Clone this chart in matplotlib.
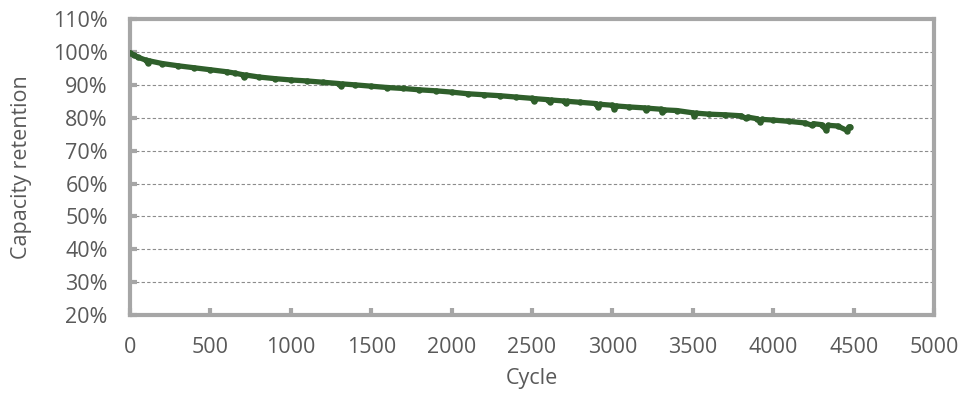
import matplotlib
matplotlib.use("Agg")
import matplotlib.pyplot as plt
from matplotlib.ticker import FuncFormatter

plt.rcParams['font.family'] = ['Open Sans', 'DejaVu Sans']

# data (cycle, capacity retention in %)
cycles = [0, 25, 50, 100, 110, 120, 200, 300, 400, 500, 600, 650, 700, 710, 720,
          800, 900, 1000, 1100, 1200, 1300, 1310, 1320, 1400, 1500, 1600, 1700,
          1800, 1900, 2000, 2100, 2200, 2300, 2400, 2500, 2510, 2520, 2600, 2610,
          2620, 2700, 2710, 2720, 2800, 2900, 2910, 2920, 3000, 3010, 3020, 3100,
          3200, 3210, 3220, 3300, 3310, 3320, 3400, 3500, 3510, 3520, 3600, 3700,
          3800, 3830, 3840, 3900, 3920, 3930, 4000, 4100, 4200, 4240, 4250, 4300,
          4330, 4340, 4400, 4460, 4470, 4480]
retention = [99.8, 99.0, 98.4, 97.5, 96.7, 97.3, 96.5, 95.8, 95.2, 94.6, 94.0, 93.6,
             93.1, 92.5, 93.0, 92.4, 91.9, 91.5, 91.2, 90.8, 90.4, 89.8, 90.3,
             90.0, 89.6, 89.2, 88.9, 88.5, 88.2, 87.8, 87.3, 87.0, 86.7, 86.3, 85.9,
             85.2, 85.8, 85.5, 84.9, 85.4, 85.1, 84.4, 85.0, 84.7, 84.3, 83.2, 84.1,
             83.8, 82.8, 83.6, 83.3, 83.0, 82.4, 82.9, 82.6, 81.8, 82.4, 82.2, 81.5,
             80.5, 81.4, 81.1, 80.9, 80.6, 79.8, 80.2, 79.7, 78.8, 79.5, 79.3, 78.9,
             78.4, 77.7, 78.2, 77.9, 76.2, 77.7, 77.5, 76.1, 77.2, 77.2]

x_ticks = list(range(0, 5001, 500))
y_ticks = list(range(20, 111, 10))

GRAY = '#A6A6A6'
TEXT = '#595959'
GREEN = '#2F5F2B'

fig = plt.figure(figsize=(9.61, 4.07), dpi=100)
ax = fig.add_axes([0.1353, 0.226, 0.8367, 0.727])

ax.plot(cycles, retention, color=GREEN, linewidth=3.8, marker='o',
        markersize=3.6, solid_capstyle='round', solid_joinstyle='round', zorder=3)

ax.set_xlim(0, 5000)
ax.set_ylim(20, 110)
ax.set_xticks(x_ticks)
ax.set_yticks(y_ticks)
ax.yaxis.set_major_formatter(FuncFormatter(lambda v, _: f"{int(v)}%"))

# dashed gridlines (not on the top frame)
for y in y_ticks[1:-1]:
    ax.axhline(y, color='#8C8C8C', linestyle=(0, (3, 2)), linewidth=0.8, zorder=1)

for sp in ax.spines.values():
    sp.set_color(GRAY)
    sp.set_linewidth(3)

ax.tick_params(direction='in', length=5, width=3, color=GRAY,
               labelsize=15.5, labelcolor=TEXT)
ax.tick_params(axis='y', pad=16)
ax.tick_params(axis='x', pad=16)

ax.set_xlabel('Cycle', fontsize=15.5, color=TEXT, labelpad=7)
ax.set_ylabel('Capacity retention', fontsize=15.5, color=TEXT, labelpad=15)

fig.savefig('out.png', dpi=100)
